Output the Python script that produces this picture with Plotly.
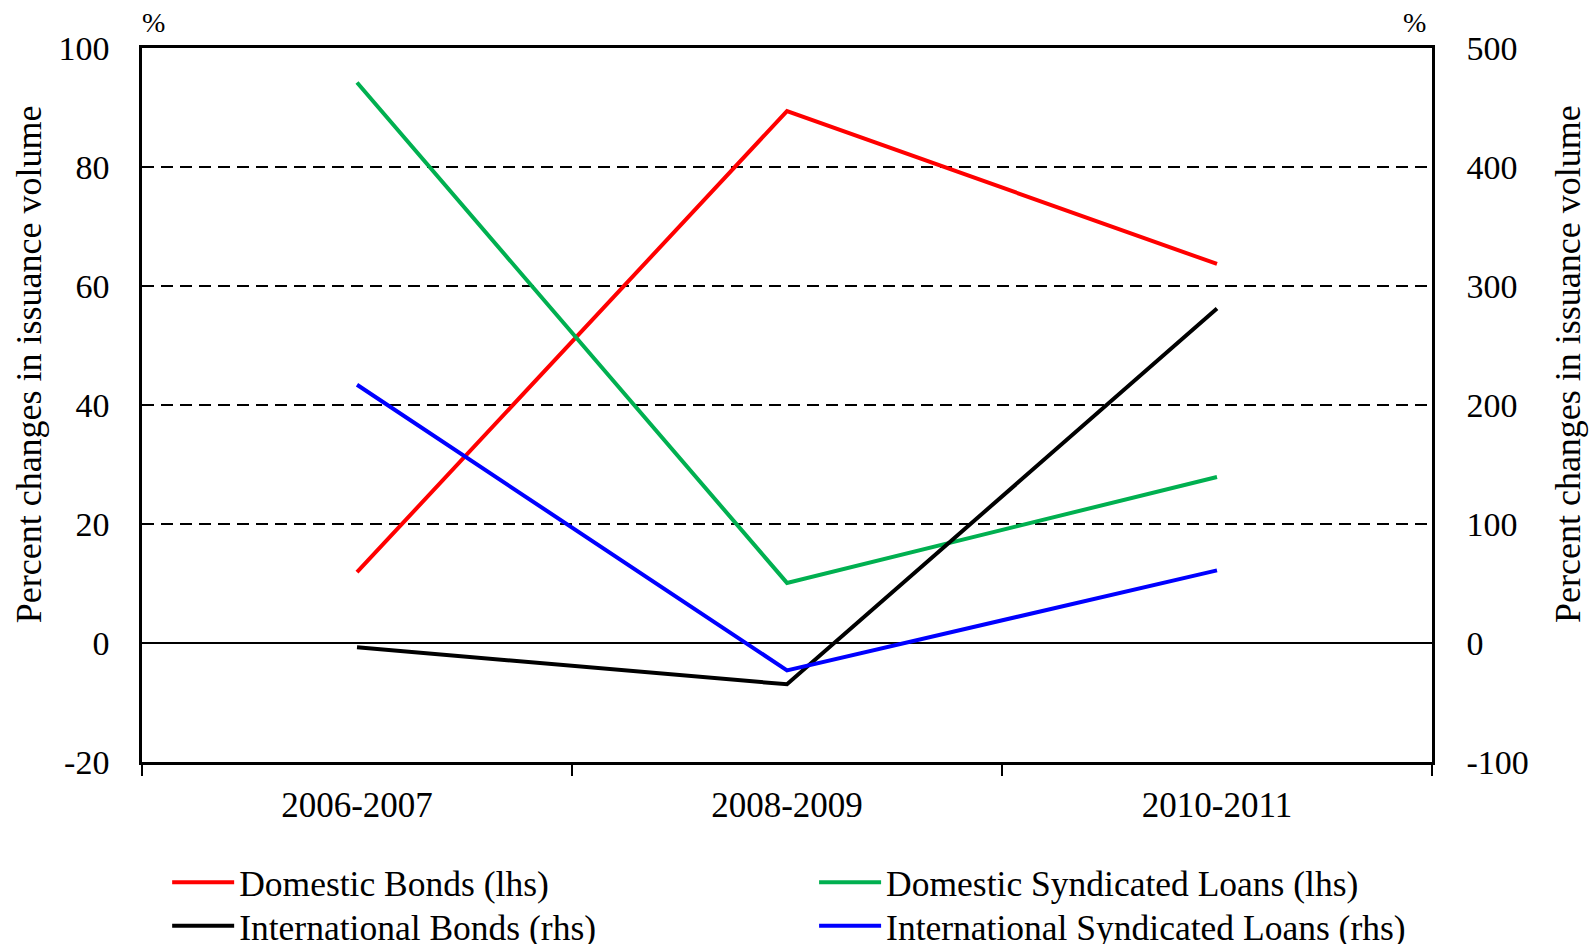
import plotly.graph_objects as go

periods = ["2006-2007", "2008-2009", "2010-2011"]

# left axis series (lhs)
domestic_bonds = [11.9, 89.4, 63.7]
domestic_synd_loans = [94.2, 10.1, 27.9]

# right axis series (rhs)
intl_bonds = [-3.6, -34.7, 281]
intl_synd_loans = [217, -23, 61]

lhs_ticks = [-20, 0, 20, 40, 60, 80, 100]
rhs_ticks = [-100, 0, 100, 200, 300, 400, 500]

FONT = "Liberation Serif, Times New Roman, serif"
AXIS_TITLE = "Percent changes in issuance volume"

fig = go.Figure()
# one legend per entry so the 2x2 grid can be placed exactly
fig.add_trace(go.Scatter(x=periods, y=domestic_bonds, name="Domestic Bonds (lhs)", mode="lines",
                         line=dict(color="#FF0000", width=4), legend="legend"))
fig.add_trace(go.Scatter(x=periods, y=domestic_synd_loans, name="Domestic Syndicated Loans (lhs)", mode="lines",
                         line=dict(color="#00B050", width=4), legend="legend2"))
fig.add_trace(go.Scatter(x=periods, y=intl_bonds, name="International Bonds (rhs)", mode="lines",
                         line=dict(color="#000000", width=4), yaxis="y2", legend="legend3"))
fig.add_trace(go.Scatter(x=periods, y=intl_synd_loans, name="International Syndicated Loans (rhs)", mode="lines",
                         line=dict(color="#0000FF", width=4), yaxis="y2", legend="legend4"))

legend_style = dict(orientation="v", xanchor="left", yanchor="top", itemwidth=62,
                    font=dict(size=35.5), bgcolor="rgba(0,0,0,0)")
row1, row2 = -0.127, -0.188
col1, col2 = 0.0195, 0.521

fig.update_layout(
    width=1589, height=944,
    margin=dict(l=142, r=157, t=48, b=182, autoexpand=False),
    plot_bgcolor="white", paper_bgcolor="white",
    font=dict(family=FONT, size=34, color="black"),
    showlegend=True,
    legend=dict(x=col1, y=row1, **legend_style),
    legend2=dict(x=col2, y=row1, **legend_style),
    legend3=dict(x=col1, y=row2, **legend_style),
    legend4=dict(x=col2, y=row2, **legend_style),
    xaxis=dict(type="category", range=[-0.5, 2.5], showline=True, linecolor="black", linewidth=2.5,
               mirror=True, ticks="outside", tickson="boundaries", ticklen=11, tickwidth=2,
               tickcolor="black", showgrid=False, tickfont=dict(size=35), ticklabelstandoff=10),
    yaxis=dict(range=[-20, 100], tickvals=lhs_ticks, ticktext=[str(v) for v in lhs_ticks],
               showline=True, linecolor="black", linewidth=2.5,
               showgrid=True, gridcolor="black", gridwidth=2, griddash="12px,7px",
               zeroline=True, zerolinecolor="black", zerolinewidth=2,
               ticks="", ticklabelstandoff=23, tickfont=dict(size=34)),
    yaxis2=dict(range=[-100, 500], tickvals=rhs_ticks, ticktext=[str(v) for v in rhs_ticks],
                overlaying="y", side="right", showline=True,
                linecolor="black", linewidth=2.5, showgrid=False, zeroline=False,
                ticks="", ticklabelstandoff=25, tickfont=dict(size=34)),
    annotations=[
        dict(text="%", x=0, xref="paper", y=1, yref="paper", xanchor="left", yanchor="bottom",
             showarrow=False, font=dict(size=28), xshift=-2, yshift=8),
        dict(text="%", x=1, xref="paper", y=1, yref="paper", xanchor="right", yanchor="bottom",
             showarrow=False, font=dict(size=28), xshift=-4, yshift=8),
        dict(text=AXIS_TITLE, x=-0.0876, xref="paper", y=0.557, yref="paper", textangle=-90,
             showarrow=False, font=dict(size=36), xanchor="center", yanchor="middle"),
        dict(text=AXIS_TITLE, x=1.106, xref="paper", y=0.557, yref="paper", textangle=-90,
             showarrow=False, font=dict(size=36), xanchor="center", yanchor="middle"),
    ],
)

fig.write_html("out.html", config={"displayModeBar": False},
               post_script="document.body.style.margin='0';document.body.style.overflow='hidden';")
